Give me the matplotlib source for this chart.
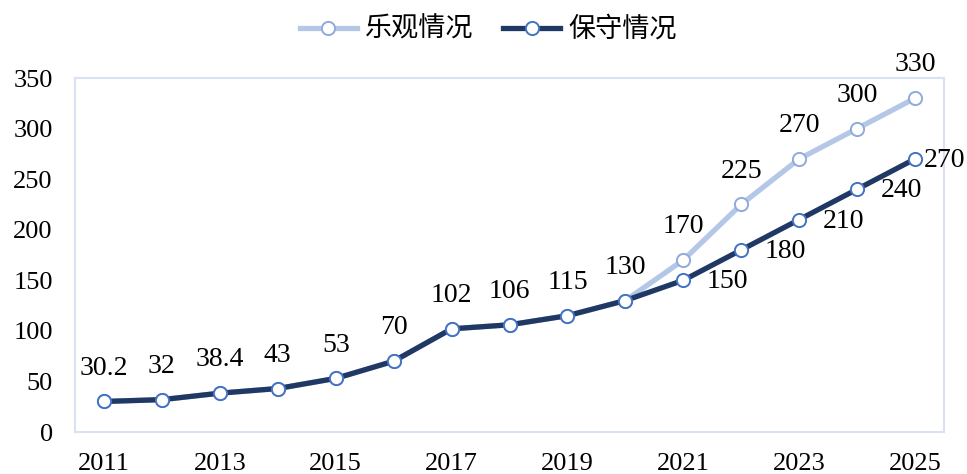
import numpy as np
from matplotlib import pyplot as plt

plt.rcParams['font.family'] = ['Liberation Serif', 'Noto Sans CJK SC']

years = list(range(2011, 2026))
conservative = [30.2, 32, 38.4, 43, 53, 70, 102, 106, 115, 130, 150, 180, 210, 240, 270]
optimistic = [30.2, 32, 38.4, 43, 53, 70, 102, 106, 115, 130, 170, 225, 270, 300, 330]
split_year = 2020
series_names = ['乐观情况', '保守情况']
x_ticks = list(range(2011, 2026, 2))
y_ticks = [0, 50, 100, 150, 200, 250, 300, 350]


def fmt(v):
    return f'{v:g}'


fig = plt.figure(figsize=(9.67, 4.74), dpi=100)
ax = fig.add_axes([0.0776, 0.0886, 0.8986, 0.7468])

ax.plot(years, optimistic, color='#B4C7E7', lw=3.8, marker='o', ms=9.5,
        mfc='white', mec='#8FAADC', mew=1.4, label=series_names[0], zorder=2)
ax.plot(years, conservative, color='#1F3864', lw=3.8, marker='o', ms=9.5,
        mfc='white', mec='#4472C4', mew=1.4, label=series_names[1], zorder=3)

for x, v in zip(years, conservative):
    if x <= split_year:
        ax.annotate(fmt(v), (x, v), xytext=(0, 24), textcoords='offset points',
                    ha='center', va='center', fontsize=20)
    else:
        dx = 6 if x == years[-1] else 17
        ax.annotate(fmt(v), (x, v), xytext=(dx, -1), textcoords='offset points',
                    ha='left', va='center', fontsize=20)

for x, v in zip(years, optimistic):
    if x > split_year:
        ax.annotate(fmt(v), (x, v), xytext=(0, 24), textcoords='offset points',
                    ha='center', va='center', fontsize=20)

ax.set_xlim(2010.5, 2025.5)
ax.set_ylim(0, 350)
ax.set_xticks(x_ticks)
ax.set_yticks(y_ticks)
ax.tick_params(axis='both', length=0, labelsize=19)
ax.tick_params(axis='x', pad=15)
ax.tick_params(axis='y', pad=16)
for s in ax.spines.values():
    s.set_color('#D9E2F3')
    s.set_linewidth(1.5)

fig.legend(loc='upper center', bbox_to_anchor=(0.505, 1.015), ncol=2, frameon=False,
           fontsize=19.5, handlelength=2.1, columnspacing=1.1, handletextpad=0.3)

fig.savefig('out.png', dpi=100)
